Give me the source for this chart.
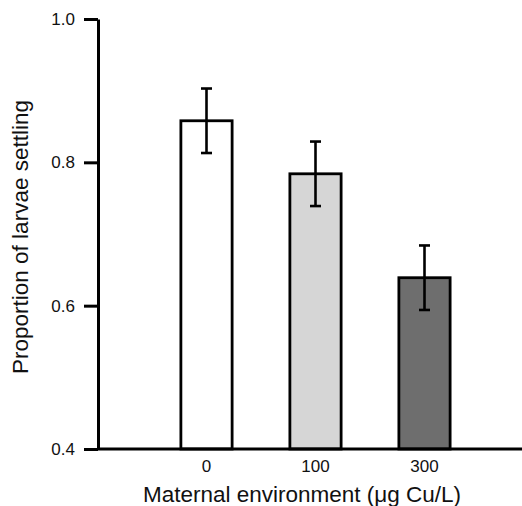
<!DOCTYPE html>
<html>
<head>
<meta charset="utf-8">
<script src="https://cdn.jsdelivr.net/npm/d3@7"></script>
<style>
  body { margin: 0; background: #fff; }
  text { font-family: 'Liberation Sans', Arial, Helvetica, sans-serif; fill: #111; }
</style>
</head>
<body>
<div id="chart"></div>
<script>
// data
var doses = ['0', '100', '300']
var proportions = [0.858, 0.784, 0.639]
var errors = [0.045, 0.045, 0.045]
var fills = ['#ffffff', '#d6d6d6', '#6e6e6e']
var yTicks = [0.4, 0.6, 0.8, 1.0]

var width = 522
var height = 506

var svg = d3
  .select('#chart')
  .append('svg')
  .attr('width', width)
  .attr('height', height)

var xPositionScale = d3
  .scaleBand()
  .domain(doses)
  .range([152, 479])
  .paddingInner(0.53)
  .paddingOuter(0.265)

var yPositionScale = d3
  .scaleLinear()
  .domain([0.4, 1.0])
  .range([449, 19])

var datapoints = doses.map(function(d, i) {
  return { dose: d, value: proportions[i], err: errors[i], fill: fills[i] }
})

// bars
svg
  .selectAll('.bar')
  .data(datapoints)
  .enter()
  .append('rect')
  .attr('class', 'bar')
  .attr('x', d => xPositionScale(d.dose))
  .attr('width', xPositionScale.bandwidth())
  .attr('y', d => yPositionScale(d.value))
  .attr('height', d => yPositionScale(0.4) - yPositionScale(d.value))
  .attr('fill', d => d.fill)
  .attr('stroke', '#000')
  .attr('stroke-width', 2.8)

// error bars
var capHalf = 5.5
var errG = svg
  .selectAll('.err')
  .data(datapoints)
  .enter()
  .append('g')
  .attr('class', 'err')
  .attr('stroke', '#000')
  .attr('stroke-width', 2.6)

errG
  .append('line')
  .attr('x1', d => xPositionScale(d.dose) + xPositionScale.bandwidth() / 2)
  .attr('x2', d => xPositionScale(d.dose) + xPositionScale.bandwidth() / 2)
  .attr('y1', d => yPositionScale(d.value + d.err))
  .attr('y2', d => yPositionScale(d.value - d.err))

errG
  .selectAll('.cap')
  .data(d => [
    { x: xPositionScale(d.dose) + xPositionScale.bandwidth() / 2, v: d.value + d.err },
    { x: xPositionScale(d.dose) + xPositionScale.bandwidth() / 2, v: d.value - d.err }
  ])
  .enter()
  .append('line')
  .attr('x1', d => d.x - capHalf)
  .attr('x2', d => d.x + capHalf)
  .attr('y1', d => yPositionScale(d.v))
  .attr('y2', d => yPositionScale(d.v))

// y axis
var yAxis = d3
  .axisLeft(yPositionScale)
  .tickValues(yTicks)
  .tickFormat(d3.format('.1f'))
  .tickSize(14)
  .tickSizeOuter(0)
  .tickPadding(9)

svg
  .append('g')
  .attr('class', 'axis y-axis')
  .attr('transform', 'translate(98,0)')
  .call(yAxis)

// x axis
var xAxis = d3
  .axisBottom(xPositionScale)
  .tickSize(0)
  .tickPadding(11)

svg
  .append('g')
  .attr('class', 'axis x-axis')
  .attr('transform', 'translate(0,449)')
  .call(xAxis)

svg.select('.x-axis .domain').remove()
svg
  .append('line')
  .attr('x1', 98)
  .attr('x2', width)
  .attr('y1', 449)
  .attr('y2', 449)
  .attr('stroke', '#000')
  .attr('stroke-width', 3)

svg.selectAll('.axis .domain, .axis .tick line')
  .attr('stroke', '#000')
  .attr('stroke-width', 3)

svg.selectAll('.axis')
  .attr('font-size', 17)
  .attr('font-family', "'Liberation Sans', Arial, sans-serif")

svg.selectAll('.axis .tick text')
  .style('font-size', '17px')
  .attr('fill', '#1a1a1a')

svg
  .append('text')
  .attr('x', 302)
  .attr('y', 502)
  .attr('text-anchor', 'middle')
  .style('font-size', '22.5px')
  .text('Maternal environment (\u03bcg Cu/L)')

svg
  .append('text')
  .attr('transform', 'translate(28,237) rotate(-90)')
  .attr('text-anchor', 'middle')
  .style('font-size', '22.5px')
  .text('Proportion of larvae settling')
</script>
</body>
</html>
